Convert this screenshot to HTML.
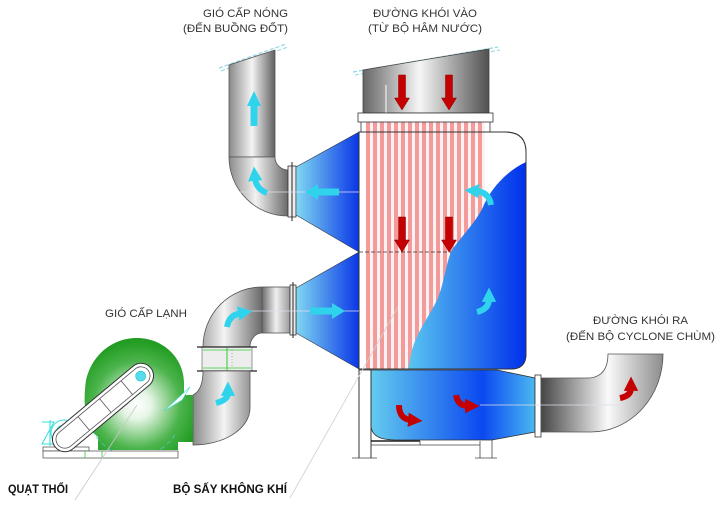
<!DOCTYPE html>
<html><head><meta charset="utf-8"><style>html,body{margin:0;padding:0;background:#fff}svg{display:block}</style></head>
<body>
<svg width="719" height="515" viewBox="0 0 719 515" xmlns="http://www.w3.org/2000/svg" font-family="'Liberation Sans', sans-serif">
<defs>
 <linearGradient id="gTrap" x1="296" y1="0" x2="359" y2="0" gradientUnits="userSpaceOnUse">
  <stop offset="0" stop-color="#80d8f2"/><stop offset="1" stop-color="#0a36e6"/>
 </linearGradient>
 <linearGradient id="gWave" x1="408" y1="0" x2="526" y2="0" gradientUnits="userSpaceOnUse">
  <stop offset="0" stop-color="#5ac6f0"/><stop offset="1" stop-color="#0030ec"/>
 </linearGradient>
 <linearGradient id="gBot" x1="371" y1="0" x2="535" y2="0" gradientUnits="userSpaceOnUse">
  <stop offset="0" stop-color="#64ccee"/><stop offset="0.68" stop-color="#0b48f0"/><stop offset="1" stop-color="#4ab8f0"/>
 </linearGradient>
 <linearGradient id="gHotV" x1="229" y1="0" x2="275" y2="0" gradientUnits="userSpaceOnUse">
  <stop offset="0" stop-color="#8a8a8a"/><stop offset="0.5" stop-color="#f4f4f4"/><stop offset="1" stop-color="#606060"/>
 </linearGradient>
 <linearGradient id="gHotE" x1="229" y1="0" x2="288" y2="0" gradientUnits="userSpaceOnUse">
  <stop offset="0" stop-color="#8a8a8a"/><stop offset="0.45" stop-color="#f2f2f2"/><stop offset="1" stop-color="#6a6a6a"/>
 </linearGradient>
 <linearGradient id="gHood" x1="363" y1="0" x2="489" y2="0" gradientUnits="userSpaceOnUse">
  <stop offset="0" stop-color="#666"/><stop offset="0.45" stop-color="#f6f6f6"/><stop offset="1" stop-color="#505050"/>
 </linearGradient>
 <linearGradient id="gOut" x1="541" y1="0" x2="663" y2="0" gradientUnits="userSpaceOnUse">
  <stop offset="0" stop-color="#454545"/><stop offset="0.55" stop-color="#fafafa"/><stop offset="1" stop-color="#8c8c8c"/>
 </linearGradient>
 <linearGradient id="gLowH" x1="262" y1="0" x2="290" y2="0" gradientUnits="userSpaceOnUse">
  <stop offset="0" stop-color="#6a6a6a"/><stop offset="0.5" stop-color="#f0f0f0"/><stop offset="1" stop-color="#9a9a9a"/>
 </linearGradient>
 <linearGradient id="gLowV" x1="193" y1="0" x2="262" y2="0" gradientUnits="userSpaceOnUse">
  <stop offset="0" stop-color="#8a8a8a"/><stop offset="0.45" stop-color="#f4f4f4"/><stop offset="1" stop-color="#6a6a6a"/>
 </linearGradient>
 <radialGradient id="gFan" cx="137" cy="405" r="64" gradientUnits="userSpaceOnUse">
  <stop offset="0" stop-color="#ffffff"/><stop offset="0.22" stop-color="#e6f5e6"/><stop offset="0.68" stop-color="#4cb44c"/><stop offset="1" stop-color="#229c22"/>
 </radialGradient>
 <marker id="mc" viewBox="0 0 10 10" refX="2" refY="5" markerWidth="2.4" markerHeight="2.6" orient="auto"><path d="M0,0 L10,5 L0,10 z" fill="#2fd4ec"/></marker>
 <marker id="mr" viewBox="0 0 10 10" refX="2" refY="5" markerWidth="2.4" markerHeight="2.6" orient="auto"><path d="M0,0 L10,5 L0,10 z" fill="#c40000"/></marker>
</defs>

<!-- Hot air duct (top-left) -->
<path d="M219,68 L286,44" stroke="#8fd8e8" stroke-width="1.2" stroke-dasharray="4 2" fill="none"/>
<path d="M221,71 L288,47" stroke="#8fd8e8" stroke-width="1" stroke-dasharray="4 2" fill="none"/>
<path d="M229,65 L275,50 V157 H229 Z" fill="url(#gHotV)" stroke="#555" stroke-width="0.8"/>
<path d="M229,157 H275 A13,13 0 0 0 288,170 V216 A59,59 0 0 1 229,157 Z" fill="url(#gHotE)" stroke="#555" stroke-width="0.8"/>
<rect x="288" y="166" width="8" height="51" fill="#eee" stroke="#333" stroke-width="0.8"/>
<line x1="292" y1="162" x2="292" y2="221" stroke="#222" stroke-width="1"/>

<!-- Tower body -->
<path d="M359,132 H505 Q526,132 526,152 V354 Q526,369 511,369 H359 Z" fill="#fff" stroke="#333" stroke-width="0.9"/>
<g fill="#f08484">
 <rect x="366" y="118" width="4" height="251"/><rect x="373" y="118" width="4" height="251"/>
 <rect x="380" y="118" width="4" height="251"/><rect x="387" y="118" width="4" height="251"/>
 <rect x="394" y="118" width="4" height="251"/><rect x="401" y="118" width="4" height="251"/>
 <rect x="408" y="118" width="4" height="251"/><rect x="415" y="118" width="4" height="251"/>
 <rect x="422" y="118" width="4" height="251"/><rect x="429" y="118" width="4" height="251"/>
 <rect x="436" y="118" width="4" height="251"/><rect x="443" y="118" width="4" height="251"/>
 <rect x="450" y="118" width="4" height="251"/><rect x="457" y="118" width="4" height="251"/>
 <rect x="464" y="118" width="4" height="251"/><rect x="471" y="118" width="4" height="251"/>
 <rect x="478" y="118" width="4" height="251"/>
</g>
<rect x="366" y="118" width="119" height="251" fill="#fbd0d0" opacity="0.3"/>
<line x1="359" y1="252" x2="460" y2="252" stroke="#333" stroke-width="0.8" stroke-dasharray="4 2"/>
<line x1="359" y1="132" x2="495" y2="132" stroke="#333" stroke-width="0.8" stroke-dasharray="4 2"/>

<!-- Blue wave region -->
<path d="M526,162 C505,172 490,190 483,207 C476,222 460,238 452,250 C446,262 444,285 437,300 C430,315 418,330 412,350 L408,369 H511 Q526,369 526,354 Z" fill="url(#gWave)"/>
<path d="M359,132 H505 Q526,132 526,152 V354 Q526,369 511,369 H359 Z" fill="none" stroke="#333" stroke-width="0.9"/>

<!-- Trapezoids -->
<path d="M296,167 L359,132 L359,252 L296,215 Z" fill="url(#gTrap)" stroke="#334" stroke-width="0.6"/>
<path d="M296,288 L359,252 L359,369 L296,333 Z" fill="url(#gTrap)" stroke="#334" stroke-width="0.6"/>

<!-- Hood (flue inlet) -->
<path d="M353,72 L498,47" stroke="#8fd8e8" stroke-width="1.2" stroke-dasharray="4 2" fill="none"/>
<path d="M355,75 L500,50" stroke="#8fd8e8" stroke-width="1" stroke-dasharray="4 2" fill="none"/>
<path d="M363,70 L489,49 V113 H363 Z" fill="url(#gHood)" stroke="#444" stroke-width="0.8"/>
<line x1="386" y1="85" x2="386" y2="113" stroke="#fff" stroke-width="1"/>
<rect x="358" y="113" width="135" height="9" fill="#fff" stroke="#333" stroke-width="0.8"/>
<line x1="361" y1="122" x2="361" y2="132" stroke="#333" stroke-width="0.8"/>
<line x1="490" y1="122" x2="490" y2="132" stroke="#333" stroke-width="0.8"/>

<!-- Bottom box -->
<path d="M371,370 H497 L535,378 V432 L492,440 H395 Q371,440 371,425 Z" fill="url(#gBot)" stroke="#333" stroke-width="0.8"/>
<line x1="359" y1="132" x2="359" y2="458" stroke="#333" stroke-width="1"/>
<line x1="371" y1="369" x2="371" y2="458" stroke="#333" stroke-width="1"/>
<line x1="359" y1="370" x2="371" y2="370" stroke="#333" stroke-width="0.8"/>
<line x1="371" y1="441" x2="420" y2="441" stroke="#222" stroke-width="1.6"/>
<line x1="371" y1="445" x2="480" y2="445" stroke="#444" stroke-width="0.8"/>
<line x1="420" y1="441" x2="420" y2="445" stroke="#444" stroke-width="0.8"/>
<line x1="480" y1="441" x2="480" y2="458" stroke="#444" stroke-width="0.8"/>
<line x1="492" y1="440" x2="492" y2="458" stroke="#444" stroke-width="0.8"/>
<line x1="352" y1="458" x2="377" y2="458" stroke="#444" stroke-width="0.8"/>
<line x1="475" y1="458" x2="497" y2="458" stroke="#444" stroke-width="0.8"/>

<!-- Outlet duct -->
<rect x="535" y="375" width="6" height="62" fill="#fff" stroke="#333" stroke-width="0.8"/>
<path d="M541,378 H590 Q608,376 608,354 H663 A72,78 0 0 1 591,432 H541 Z" fill="url(#gOut)" stroke="#555" stroke-width="0.8"/>
<line x1="480" y1="405" x2="625" y2="405" stroke="#dde" stroke-width="0.8"/>

<!-- Lower air ducts -->
<rect x="262" y="287" width="28" height="46" fill="url(#gLowH)" stroke="#555" stroke-width="0.8"/>
<rect x="290" y="285" width="6" height="50" fill="#eee" stroke="#333" stroke-width="0.8"/>
<line x1="293" y1="282" x2="293" y2="338" stroke="#222" stroke-width="1"/>
<path d="M203,347 A59,60 0 0 1 262,287 V333 A12,14 0 0 0 250,347 Z" fill="url(#gLowV)" stroke="#555" stroke-width="0.8"/>
<rect x="202" y="347" width="50" height="24" fill="#ededed" stroke="#555" stroke-width="0.6"/>
<line x1="227" y1="348" x2="227" y2="370" stroke="#3c3" stroke-width="1"/>
<line x1="203" y1="350" x2="251" y2="350" stroke="#3c3" stroke-width="0.8"/>
<line x1="203" y1="368" x2="251" y2="368" stroke="#3c3" stroke-width="0.8"/>
<line x1="232" y1="350" x2="232" y2="368" stroke="#999" stroke-width="0.8" stroke-dasharray="1 2"/>
<line x1="197" y1="347" x2="257" y2="347" stroke="#222" stroke-width="1.2"/>
<line x1="197" y1="371" x2="257" y2="371" stroke="#222" stroke-width="1.2"/>
<path d="M203,371 H250 V408 A57,37 0 0 1 193,445 V395 Q203,390 203,371 Z" fill="url(#gLowV)" stroke="#555" stroke-width="0.8"/>

<!-- Fan -->
<path d="M98,450 V437 C92,432 88,426 87,418 C84,408 84,395 86,380 C92,355 112,338 137,338 C163,338 184,358 184,383 L184,395 H193 V442 H178 V450 Z" fill="url(#gFan)"/>
<polygon points="164,411 190,387 182,400" fill="#fff" stroke="#4dd" stroke-width="0.6"/>
<path d="M92,430 A48,48 0 0 0 175,435" fill="none" stroke="#4cc" stroke-width="0.7" stroke-dasharray="5 3"/>
<rect x="43" y="447" width="46" height="4" fill="#fff" stroke="#444" stroke-width="0.7"/>
<rect x="43" y="451" width="135" height="7" fill="#fff" stroke="#444" stroke-width="0.7"/>
<line x1="85" y1="451" x2="85" y2="458" stroke="#3c3" stroke-width="0.8"/>
<line x1="102" y1="451" x2="102" y2="458" stroke="#3c3" stroke-width="0.8"/>
<g stroke="#3dd" stroke-width="1" fill="none">
 <circle cx="64" cy="433" r="13"/><circle cx="64" cy="433" r="8"/>
 <path d="M42,422 H54 L42,444 H56"/><line x1="50" y1="420" x2="50" y2="446"/>
</g>
<g transform="rotate(-39.8 103 407.5)">
 <rect x="41" y="395" width="124" height="25" rx="12.5" fill="#fff" stroke="#333" stroke-width="1"/>
 <rect x="44.5" y="398.5" width="117" height="18" rx="9" fill="none" stroke="#555" stroke-width="0.8"/>
 <line x1="78" y1="398.5" x2="78" y2="416.5" stroke="#555" stroke-width="0.8"/>
 <line x1="106" y1="398.5" x2="106" y2="416.5" stroke="#555" stroke-width="0.8"/>
 <line x1="134" y1="398.5" x2="134" y2="416.5" stroke="#555" stroke-width="0.8"/>
 <circle cx="152" cy="407.5" r="5" fill="#5de" stroke="#2bb" stroke-width="0.6"/>
</g>

<!-- centre lines / leaders -->
<line x1="240" y1="192" x2="359" y2="192" stroke="#dde" stroke-width="0.8"/>
<line x1="230" y1="311" x2="359" y2="311" stroke="#dde" stroke-width="0.8"/>
<line x1="75" y1="500" x2="137" y2="405" stroke="#c8c8c8" stroke-width="0.8"/>
<line x1="290" y1="498" x2="398" y2="307" stroke="#d0d0d0" stroke-width="0.8"/>

<!-- Straight arrows -->
<polygon points="254,91 261,106 257.5,106 257.5,126 250.5,126 250.5,106 247,106" fill="#2fd4ec"/>
<polygon points="305,192 318,184 318,188.5 339,188.5 339,195.5 318,195.5 318,200" fill="#2fd4ec"/>
<polygon points="345,311 332,303 332,307.5 310,307.5 310,314.5 332,314.5 332,319" fill="#2fd4ec"/>
<g fill="#c40000" stroke="#8a0000" stroke-width="0.5">
 <polygon points="398.5,75 405.5,75 405.5,98 409.5,98 402,110 394.5,98 398.5,98"/>
 <polygon points="445.5,75 452.5,75 452.5,98 456.5,98 449,110 441.5,98 445.5,98"/>
 <polygon points="398.5,217 405.5,217 405.5,240 409.5,240 402,252 394.5,240 398.5,240"/>
 <polygon points="445.5,217 452.5,217 452.5,240 456.5,240 449,252 441.5,240 445.5,240"/>
</g>

<!-- Curved arrows -->
<g fill="none" stroke-width="6">
 <path d="M267,193 Q256,189 255,178" stroke="#2fd4ec" marker-end="url(#mc)"/>
 <path d="M491,205 Q489,192 476,191" stroke="#2fd4ec" marker-end="url(#mc)"/>
 <path d="M477,312 Q489,309 489,299" stroke="#2fd4ec" marker-end="url(#mc)"/>
 <path d="M227,327 Q229,315 241,313" stroke="#2fd4ec" marker-end="url(#mc)"/>
 <path d="M216,403 Q228,400 228,393" stroke="#2fd4ec" marker-end="url(#mc)"/>
 <path d="M399,405 Q399,419 411,420" stroke="#c40000" marker-end="url(#mr)"/>
 <path d="M456,395 Q458,406 468,406" stroke="#c40000" marker-end="url(#mr)"/>
 <path d="M620,398 Q631,396 631,388" stroke="#c40000" marker-end="url(#mr)"/>
</g>

<!-- Labels -->
<g fill="#333" font-size="11">
 <text x="288" y="17" text-anchor="end" textLength="85" lengthAdjust="spacingAndGlyphs">GIÓ CẤP NÓNG</text>
 <text x="288" y="32" text-anchor="end" textLength="105" lengthAdjust="spacingAndGlyphs">(ĐẾN BUỒNG ĐỐT)</text>
 <text x="425" y="17" text-anchor="middle" textLength="104" lengthAdjust="spacingAndGlyphs">ĐƯỜNG KHÓI VÀO</text>
 <text x="425" y="32" text-anchor="middle" textLength="114" lengthAdjust="spacingAndGlyphs">(TỪ BỘ HÂM NƯỚC)</text>
 <text x="105" y="317" textLength="82" lengthAdjust="spacingAndGlyphs">GIÓ CẤP LẠNH</text>
 <text x="593" y="324" textLength="95" lengthAdjust="spacingAndGlyphs">ĐƯỜNG KHÓI RA</text>
 <text x="566" y="340" textLength="149" lengthAdjust="spacingAndGlyphs">(ĐẾN BỘ CYCLONE CHÙM)</text>
</g>
<g fill="#111" font-size="11.5" font-weight="bold">
 <text x="8" y="493" textLength="60" lengthAdjust="spacingAndGlyphs">QUẠT THỔI</text>
 <text x="173" y="493" textLength="114" lengthAdjust="spacingAndGlyphs">BỘ SẤY KHÔNG KHÍ</text>
</g>
</svg>
</body></html>
